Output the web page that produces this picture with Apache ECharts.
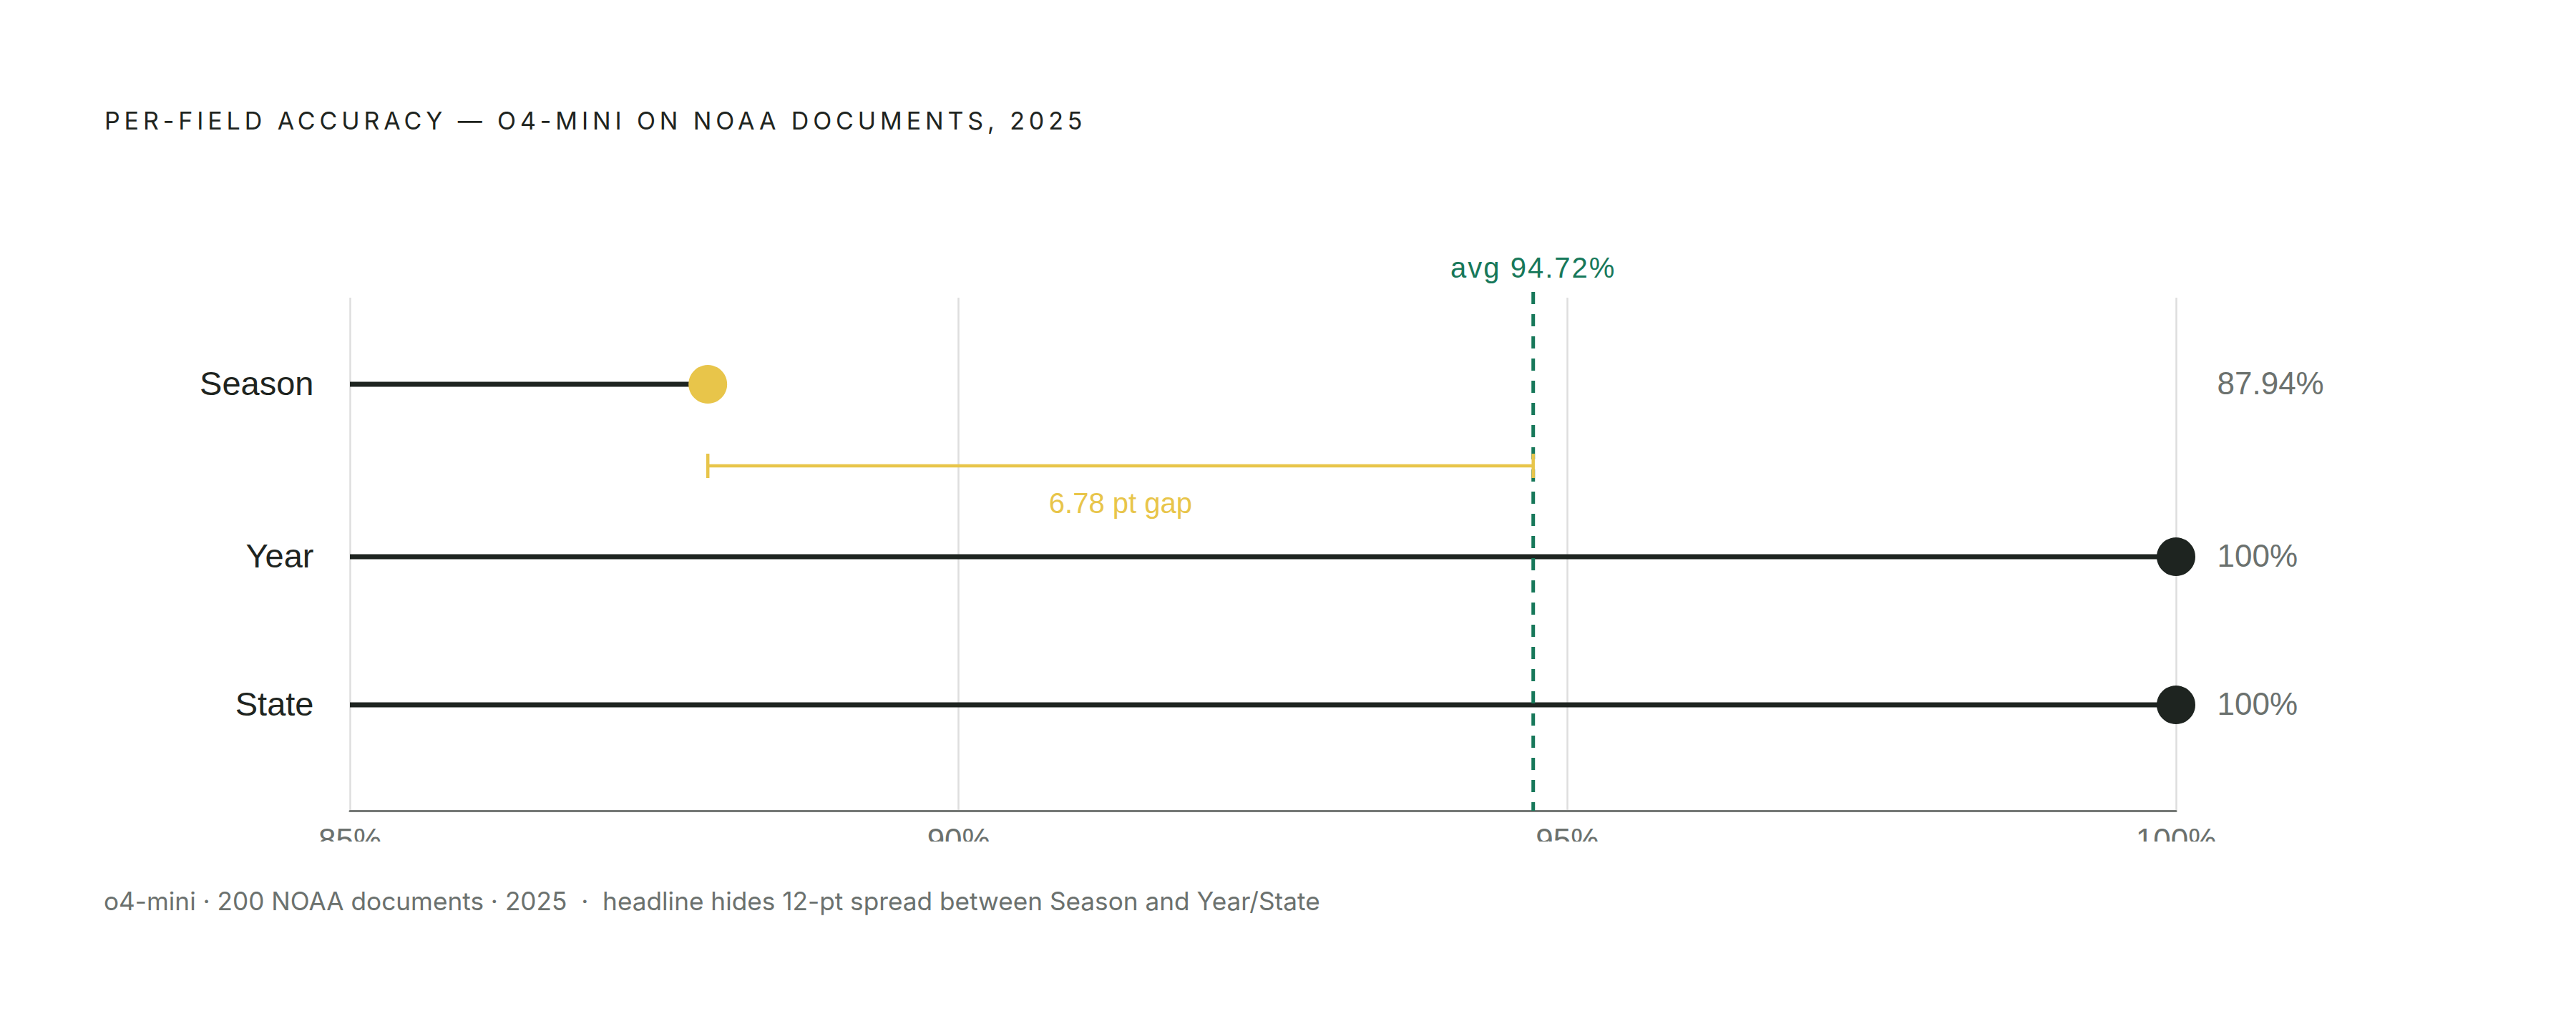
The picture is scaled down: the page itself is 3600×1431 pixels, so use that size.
<!DOCTYPE html>
<html><head><meta charset="utf-8">
<script src="https://cdn.jsdelivr.net/npm/echarts@6/dist/echarts.min.js"></script>
<style>html,body{margin:0;padding:0;background:#fff}#c{width:3600px;height:1431px}</style>
</head><body><div id="c"></div>
<script>
// ---- data ----
const fields = ['Season', 'Year', 'State'];
const accuracy = [87.94, 100, 100];
const avgAccuracy = 94.72;
const xTicks = [85, 90, 95, 100];
const titleText = 'PER-FIELD ACCURACY \u2014 O4-MINI ON NOAA DOCUMENTS, 2025';
const footerText = 'o4-mini \u00b7 200 NOAA documents \u00b7 2025  \u00b7  headline hides 12-pt spread between Season and Year/State';

// ---- layout (vertical slots in plot units, not data) ----
const ROW_SLOT = [121, 362, 569];
const GAP_SLOT = 235;
const SLOT_MAX = 717;

const C = { ink:'#1e2420', grey:'#6b716e', yellow:'#e8c54a', green:'#17785a', grid:'#dedede', axis:'#747875' };
const FONT_UI = '"Liberation Sans", Arial, sans-serif';
const FONT_HEAD = 'Inter, "Noto Sans", sans-serif';

const xMin = xTicks[0], xMax = xTicks[xTicks.length - 1], xStep = xTicks[1] - xTicks[0];
const flaggedIdx = accuracy.indexOf(Math.min(...accuracy));
const gap = +(avgAccuracy - accuracy[flaggedIdx]).toFixed(2);
const fmtPct = v => (Number.isInteger(v) ? String(v) : v.toFixed(2)) + '%';

const chart = echarts.init(document.getElementById('c'), null, { renderer: 'svg' });

const option = {
  animation: false,
  backgroundColor: '#fff',
  title: [
    { text: titleText, left: 141, top: 146,
      textStyle: { fontFamily: FONT_HEAD, fontSize: 34, fontWeight: 400, color: C.ink, lineHeight: 34 } },
    { text: footerText, left: 140, top: 1236,
      textStyle: { fontFamily: FONT_HEAD, fontSize: 35.2, fontWeight: 400, color: C.grey, lineHeight: 35 } }
  ],
  grid: { left: 489, right: 559, top: 416, bottom: 298 },
  xAxis: {
    type: 'value', min: xMin, max: xMax, interval: xStep,
    axisLine: { show: true, onZero: false, lineStyle: { color: C.axis, width: 3 } },
    axisTick: { show: false },
    splitLine: { show: true, lineStyle: { color: C.grid, width: 2.5 } },
    axisLabel: { formatter: v => v + '%', color: C.grey, fontFamily: FONT_UI, fontSize: 44, margin: 18 }
  },
  yAxis: { type: 'value', min: 0, max: SLOT_MAX, inverse: true, show: false },
  graphic: [
    { type: 'rect', z: 1000, shape: { x: 300, y: 1176, width: 3200, height: 50 }, style: { fill: '#fff' } }
  ],
  series: [
    { // stems
      type: 'custom', z: 2,
      data: fields.map((f, i) => [accuracy[i], ROW_SLOT[i]]),
      encode: { x: 0, y: 1 },
      renderItem: (params, api) => {
        const y = api.value(1);
        const p0 = api.coord([xMin, y]);
        const p1 = api.coord([api.value(0), y]);
        return { type: 'line', shape: { x1: p0[0], y1: p0[1], x2: p1[0], y2: p1[1] },
                 style: { stroke: C.ink, lineWidth: 7 } };
      }
    },
    { // average line
      type: 'custom', z: 3, clip: false,
      data: [[avgAccuracy, 0]],
      encode: { x: 0, y: 1 },
      renderItem: (params, api) => {
        const top = api.coord([api.value(0), 0]);
        const bot = api.coord([api.value(0), SLOT_MAX]);
        return { type: 'group', children: [
          { type: 'line', shape: { x1: top[0], y1: top[1] - 8, x2: bot[0], y2: bot[1] },
            style: { stroke: C.green, lineWidth: 5, lineDash: [17, 14] } },
          { type: 'text', x: top[0], y: top[1] - 42,
            style: { text: 'avg ' + fmtPct(avgAccuracy), fill: C.green, font: '400 40px ' + FONT_UI,
                     textAlign: 'center', textVerticalAlign: 'middle' } }
        ] };
      }
    },
    { // gap bracket
      type: 'custom', z: 4, clip: false,
      data: [[accuracy[flaggedIdx], avgAccuracy, GAP_SLOT]],
      encode: { x: [0, 1], y: 2 },
      renderItem: (params, api) => {
        const a = api.coord([api.value(0), api.value(2)]);
        const b = api.coord([api.value(1), api.value(2)]);
        const st = { stroke: C.yellow, lineWidth: 4.5 };
        return { type: 'group', children: [
          { type: 'line', shape: { x1: a[0], y1: a[1], x2: b[0], y2: b[1] }, style: st },
          { type: 'line', shape: { x1: a[0], y1: a[1] - 17, x2: a[0], y2: a[1] + 17 }, style: st },
          { type: 'line', shape: { x1: b[0], y1: b[1] - 17, x2: b[0], y2: b[1] + 17 }, style: st },
          { type: 'text', x: (a[0] + b[0]) / 2, y: a[1] + 52,
            style: { text: gap + ' pt gap', fill: C.yellow, font: '400 40px ' + FONT_UI,
                     textAlign: 'center', textVerticalAlign: 'middle' } }
        ] };
      }
    },
    { // dots
      type: 'scatter', z: 5, symbolSize: 54,
      data: fields.map((f, i) => ({ name: f, value: [accuracy[i], ROW_SLOT[i]],
        itemStyle: { color: i === flaggedIdx ? C.yellow : C.ink, opacity: 1 } }))
    },
    { // field labels (left)
      type: 'scatter', z: 6, symbolSize: 1, itemStyle: { color: 'rgba(0,0,0,0)', opacity: 1 },
      data: fields.map((f, i) => ({ name: f, value: [xMin, ROW_SLOT[i]] })),
      label: { show: true, position: 'left', distance: 50, formatter: '{b}', offset: [0, -2],
               color: C.ink, fontFamily: FONT_UI, fontSize: 47 }
    },
    { // value labels (right)
      type: 'scatter', z: 6, symbolSize: 1, itemStyle: { color: 'rgba(0,0,0,0)', opacity: 1 },
      data: fields.map((f, i) => ({ name: fmtPct(accuracy[i]), value: [xMax, ROW_SLOT[i]] })),
      label: { show: true, position: 'right', distance: 57, formatter: '{b}', offset: [0, -2],
               color: C.grey, fontFamily: FONT_UI, fontSize: 44 }
    }
  ]
};
chart.setOption(option);

function styleText() {
  document.querySelectorAll('#c svg text').forEach(t => {
    const s = t.textContent;
    if (s === titleText) t.setAttribute('letter-spacing', '5.9');
    if (s === footerText) t.style.whiteSpace = 'pre';
    if (s.indexOf('avg ') === 0) t.setAttribute('letter-spacing', '2');
  });
}
styleText();
chart.on('finished', styleText);
</script></body></html>
